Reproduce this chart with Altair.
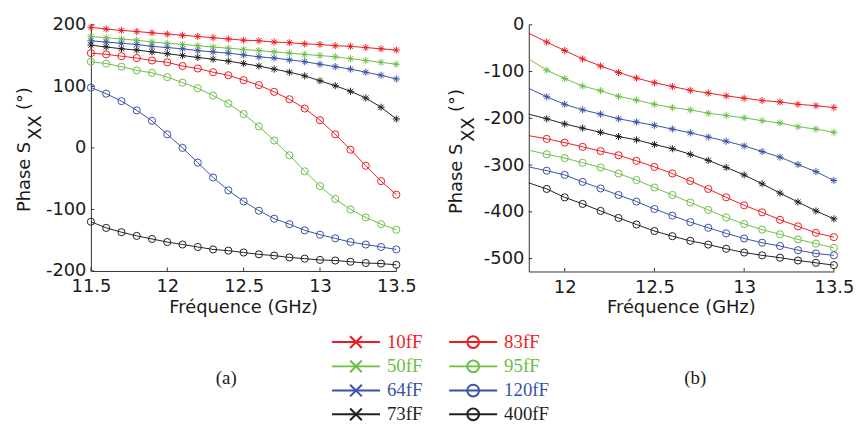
import altair as alt
import pandas as pd

# ---------------- data ----------------
series = ["10fF", "50fF", "64fF", "73fF", "83fF", "95fF", "120fF", "400fF"]
colors = ["#ED1C24", "#6DBE45", "#3953A4", "#231F20",
          "#ED1C24", "#6DBE45", "#3953A4", "#231F20"]
markers = ["x", "x", "x", "x", "o", "o", "o", "o"]

freq_a = [11.5, 11.6, 11.7, 11.8, 11.9, 12.0, 12.1, 12.2, 12.3, 12.4, 12.5,
          12.6, 12.7, 12.8, 12.9, 13.0, 13.1, 13.2, 13.3, 13.4, 13.5]
phase_a = {
    "10fF": [196, 193, 191, 189, 187, 185, 183, 181, 179, 177, 175, 174, 172, 171, 169, 168, 166, 165, 163, 161, 159],
    "50fF": [181, 179, 177, 175, 172, 170, 168, 166, 164, 162, 160, 158, 156, 154, 152, 150, 148, 145, 142, 139, 136],
    "64fF": [174, 172, 170, 168, 165, 163, 161, 158, 156, 154, 151, 148, 146, 143, 140, 136, 132, 128, 123, 118, 112],
    "73fF": [167, 164, 161, 159, 156, 153, 150, 147, 144, 141, 137, 133, 128, 123, 117, 109, 101, 92, 81, 66, 47],
    "83fF": [154, 152, 149, 146, 142, 139, 133, 129, 123, 118, 110, 102, 91, 79, 64, 45, 22, -3, -29, -54, -76],
    "95fF": [140, 137, 132, 126, 122, 115, 106, 97, 85, 72, 55, 35, 12, -12, -38, -62, -83, -100, -113, -124, -133],
    "120fF": [98, 88, 76, 61, 44, 22, 0, -24, -48, -69, -87, -102, -115, -124, -134, -141, -147, -153, -157, -161, -165],
    "400fF": [-120, -130, -137, -143, -148, -153, -157, -161, -165, -167, -170, -173, -175, -178, -180, -182, -183, -185, -187, -188, -190],
}

freq_b = [11.8, 11.9, 12.0, 12.1, 12.2, 12.3, 12.4, 12.5, 12.6,
          12.7, 12.8, 12.9, 13.0, 13.1, 13.2, 13.3, 13.4, 13.5]
phase_b = {
    "10fF": [-18, -37, -55, -73, -88, -102, -114, -124, -132, -140, -146, -152, -157, -162, -165, -170, -173, -177],
    "50fF": [-73, -97, -115, -131, -141, -153, -161, -170, -177, -182, -189, -194, -199, -205, -210, -218, -223, -230],
    "64fF": [-136, -154, -170, -182, -191, -201, -208, -215, -223, -231, -240, -249, -259, -271, -283, -299, -314, -333],
    "73fF": [-191, -201, -212, -221, -230, -239, -246, -256, -265, -277, -290, -305, -321, -340, -360, -379, -398, -415],
    "83fF": [-237, -244, -252, -261, -270, -279, -291, -304, -318, -334, -351, -369, -386, -401, -417, -431, -445, -454],
    "95fF": [-268, -277, -285, -295, -305, -318, -332, -348, -364, -380, -396, -412, -426, -438, -448, -459, -468, -477],
    "120fF": [-304, -312, -321, -336, -350, -364, -378, -394, -408, -422, -434, -446, -457, -466, -473, -482, -489, -493],
    "400fF": [-338, -351, -369, -383, -398, -413, -427, -441, -452, -462, -470, -479, -487, -493, -498, -504, -509, -514],
}

ticks_xa = [11.5, 12.0, 12.5, 13.0, 13.5]
ticks_ya = [-200, -100, 0, 100, 200]
ticks_xb = [12.0, 12.5, 13.0, 13.5]
ticks_yb = [-500, -400, -300, -200, -100, 0]

# ---------------- layout constants (pixels, chart coords) ----------------
W, H = 855, 416
XA = [83.7, 392.0]
YA = [263.5, 15.0]
XB = [525.7, 833.7]
YB = [264.0, 15.0]
SANS = "DejaVu Sans"
SERIF = "Liberation Serif"
TXT = "#1a1a1a"

ASTER = "M-1,0L1,0M0,-1L0,1M-0.72,-0.72L0.72,0.72M-0.72,0.72L0.72,-0.72"
XSHAPE = "M-1,-1L1,1M-1,1L1,-1"


def long_df(freq, phase):
    rows = []
    for s, m in zip(series, markers):
        for f, p in zip(freq, phase[s]):
            rows.append({"f": f, "p": p, "s": s, "m": m})
    return pd.DataFrame(rows)


df_a = long_df(freq_a, phase_a)
df_b = long_df(freq_b, phase_b)
df_b_pts = df_b[df_b["f"] > 11.85]

cscale = alt.Scale(domain=series, range=colors)
sscale = alt.Scale(domain=["x", "o"], range=[ASTER, "circle"])

minus_expr = "(datum.value < 0 ? '-' : '') + format(abs(datum.value), '~g')"
xlab_expr = "format(datum.value, '~g')"


def panel(df, df_pts, xdom, xr, ydom, yr, xticks, yticks):
    xs = alt.Scale(domain=xdom, range=xr, nice=False, zero=False)
    ys = alt.Scale(domain=ydom, range=yr, nice=False, zero=False)
    x_axis = alt.Axis(orient="bottom", offset=-(H - yr[0]), values=xticks,
                      labelPadding=7, labelExpr=xlab_expr, title=None)
    y_axis = alt.Axis(orient="left", offset=-xr[0], values=yticks,
                      labelPadding=5, labelExpr=minus_expr, title=None)
    lines = alt.Chart(df).mark_line(strokeWidth=1).encode(
        x=alt.X("f:Q", scale=xs, axis=x_axis),
        y=alt.Y("p:Q", scale=ys, axis=y_axis),
        color=alt.Color("s:N", scale=cscale, legend=None),
        detail="s:N",
    )
    pts = alt.Chart(df_pts).mark_point(filled=False, strokeWidth=1, size=52, opacity=1).encode(
        x=alt.X("f:Q", scale=xs, axis=None),
        y=alt.Y("p:Q", scale=ys, axis=None),
        color=alt.Color("s:N", scale=cscale, legend=None),
        shape=alt.Shape("m:N", scale=sscale, legend=None),
    )
    xt = alt.Chart(pd.DataFrame({"t": xticks})).mark_rule(color="#333", strokeWidth=1).encode(
        x=alt.X("t:Q", scale=xs, axis=None),
        y=alt.value(yr[0]), y2=alt.value(yr[0] - 3.5),
    )
    yt = alt.Chart(pd.DataFrame({"t": yticks})).mark_rule(color="#333", strokeWidth=1).encode(
        y=alt.Y("t:Q", scale=ys, axis=None),
        x=alt.value(xr[0]), x2=alt.value(xr[0] + 3.5),
    )
    return [lines, pts, xt, yt]


layers = []
layers += panel(df_a, df_a, [11.5, 13.5], XA, [-200, 200], YA, ticks_xa, ticks_ya)
layers += panel(df_b, df_b_pts, [11.8, 13.5], XB, [-527.5, 0], YB, ticks_xb, ticks_yb)

one = pd.DataFrame({"k": [0]})


def text(t, x, y, size=18, font=SANS, angle=0, align="center", color=TXT):
    return alt.Chart(one).mark_text(
        text=t, font=font, fontSize=size, angle=angle, align=align,
        baseline="middle", color=color,
    ).encode(x=alt.value(x), y=alt.value(y))


# axis titles
for cx in [(XA[0] + XA[1]) / 2, (XB[0] + XB[1]) / 2]:
    layers.append(text("Fréquence (GHz)", cx, 301))
for mx, dy in [(17.0, 0), (453.7, 2)]:
    layers.append(text("Phase S", mx, 204 + dy, angle=270, align="left"))
    layers.append(text("XX", mx + 11.5, 131 + dy, angle=270, align="left"))
    layers.append(text("(°)", mx, 101 + dy, angle=270, align="left"))

# panel captions
layers.append(text("(a)", 220.3, 372, size=19, font=SERIF))
layers.append(text("(b)", 693.7, 372, size=19, font=SERIF))

# legend
col_x0 = [327.0, 445.3]
line_len = 48.5
row_y = [335.3, 359.8, 384.2, 408.2]
leg_rows = []
for i, (s, m) in enumerate(zip(series, markers)):
    c, r = i // 4, i % 4
    leg_rows.append({
        "s": s, "m": m,
        "x1": col_x0[c], "x2": col_x0[c] + line_len,
        "mx": col_x0[c] + line_len / 2, "tx": col_x0[c] + line_len + 7,
        "y": row_y[r],
    })
leg = pd.DataFrame(leg_rows)
lscale = alt.Scale(domain=["x", "o"], range=[XSHAPE, "circle"])

layers.append(alt.Chart(leg).mark_rule(strokeWidth=2).encode(
    x=alt.X("x1:Q", scale=None), x2="x2:Q",
    y=alt.Y("y:Q", scale=None),
    color=alt.Color("s:N", scale=cscale, legend=None),
))
layers.append(alt.Chart(leg).mark_point(filled=False, strokeWidth=2, size=140, opacity=1).encode(
    x=alt.X("mx:Q", scale=None),
    y=alt.Y("y:Q", scale=None),
    color=alt.Color("s:N", scale=cscale, legend=None),
    shape=alt.Shape("m:N", scale=lscale, legend=None),
))
layers.append(alt.Chart(leg).mark_text(align="left", baseline="middle", font=SERIF, fontSize=19).encode(
    x=alt.X("tx:Q", scale=None),
    y=alt.Y("y:Q", scale=None),
    text="s:N",
    color=alt.Color("s:N", scale=cscale, legend=None),
))

chart = alt.layer(*layers).resolve_scale(
    x="independent", y="independent", shape="independent"
).properties(
    width=W, height=H, padding=0,
    autosize=alt.AutoSizeParams(type="none"),
).configure_view(stroke=None).configure_axis(
    grid=False, ticks=False, tickSize=0, domainColor="#333", domainWidth=1,
    labelFont=SANS, labelFontSize=18, labelColor=TXT, labelFlush=False,
    labelOverlap=False,
)

chart.save("out.html", embed_options={"renderer": "svg", "actions": False})
